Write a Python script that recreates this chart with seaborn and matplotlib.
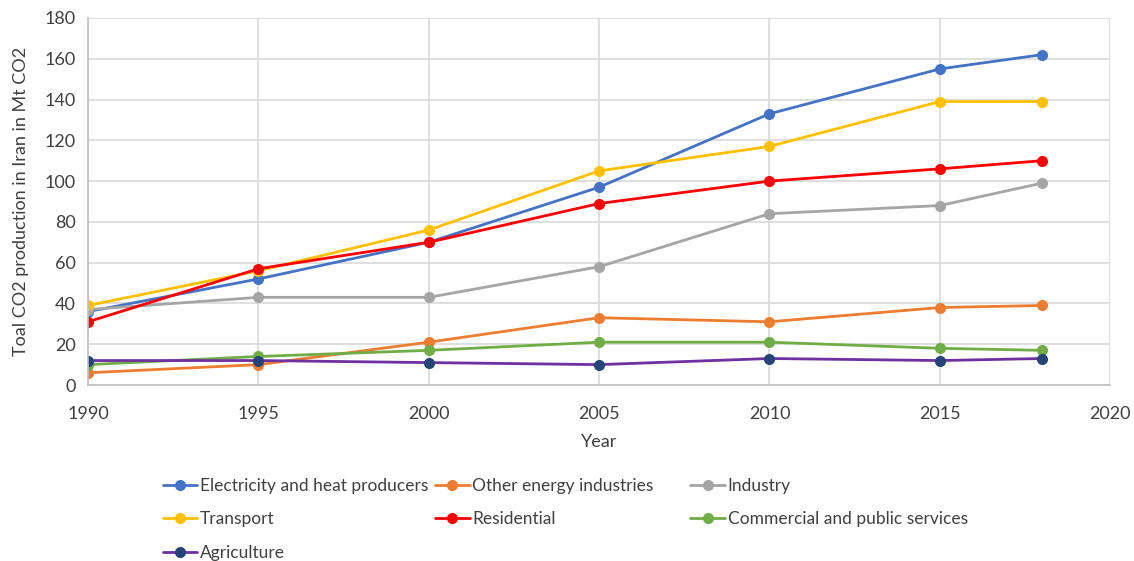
import matplotlib
matplotlib.use("Agg")
import matplotlib.pyplot as plt
import seaborn as sns
import pandas as pd
from matplotlib.lines import Line2D

years = [1990, 1995, 2000, 2005, 2010, 2015, 2018]
electricity = [36, 52, 70, 97, 133, 155, 162]
other_energy = [6, 10, 21, 33, 31, 38, 39]
industry = [37, 43, 43, 58, 84, 88, 99]
transport = [39, 56, 76, 105, 117, 139, 139]
residential = [31, 57, 70, 89, 100, 106, 110]
commercial = [10, 14, 17, 21, 21, 18, 17]
agriculture = [12, 12, 11, 10, 13, 12, 13]

series_names = [
    "Electricity and heat producers",
    "Other energy industries",
    "Industry",
    "Transport",
    "Residential",
    "Commercial and public services",
    "Agriculture",
]
series_values = [electricity, other_energy, industry, transport,
                 residential, commercial, agriculture]
line_colors = ["#4472C4", "#ED7D31", "#A5A5A5", "#FFC000", "#FF0000", "#70AD47", "#7030A0"]
marker_colors = ["#4472C4", "#ED7D31", "#A5A5A5", "#FFC000", "#FF0000", "#70AD47", "#264478"]

df = pd.DataFrame(
    [(n, y, v) for n, vals in zip(series_names, series_values) for y, v in zip(years, vals)],
    columns=["series", "Year", "value"],
)

sns.set_theme(style="white")
plt.rcParams["font.family"] = ["Lato", "DejaVu Sans"]
text_color = "#404040"

fig = plt.figure(figsize=(11.34, 5.61), dpi=100)
ax = fig.add_axes([0.0776, 0.3137, 0.9014, 0.6543])

handles = []
for name, lc, mc in zip(series_names, line_colors, marker_colors):
    sub = df[df["series"] == name]
    sns.lineplot(data=sub, x="Year", y="value", ax=ax, color=lc, linewidth=2.0,
                 marker="o", markersize=8, markerfacecolor=mc, markeredgecolor=mc,
                 markeredgewidth=0, legend=False)
    handles.append(Line2D([0], [0], color=lc, linewidth=2.0, marker="o", markersize=8,
                          markerfacecolor=mc, markeredgecolor=mc, markeredgewidth=0))

ax.set_xlim(1990, 2020)
ax.set_ylim(0, 180)
ax.set_xticks(range(1990, 2021, 5))
ax.set_yticks(range(0, 181, 20))
ax.grid(True, color="#D9D9D9", linewidth=1.2)
ax.set_axisbelow(True)
for s in ["top", "right"]:
    ax.spines[s].set_visible(False)
for s in ["left", "bottom"]:
    ax.spines[s].set_color("#BFBFBF")
    ax.spines[s].set_linewidth(1.2)
ax.tick_params(axis="y", labelsize=13, colors=text_color, length=0, pad=9)
ax.tick_params(axis="x", labelsize=13, colors=text_color, length=0, pad=15)
ax.set_xlabel("Year", fontsize=13, color=text_color, labelpad=9)
ax.set_ylabel("Toal CO2 production in Iran in Mt CO2", fontsize=13, color=text_color, labelpad=11)

# legend laid out in three columns, filled row by row
columns = [[0, 3, 6], [1, 4], [2, 5]]
col_x = [0.1374, 0.3775, 0.6025]
for idx, x0 in zip(columns, col_x):
    fig.legend([handles[i] for i in idx], [series_names[i] for i in idx],
               loc="upper left", bbox_to_anchor=(x0, 0.161),
               frameon=False, fontsize=12.5, handlelength=2.0, handletextpad=0.15,
               labelspacing=1.02, labelcolor=text_color, borderaxespad=0)

fig.savefig("out.png", dpi=100, facecolor="white")
